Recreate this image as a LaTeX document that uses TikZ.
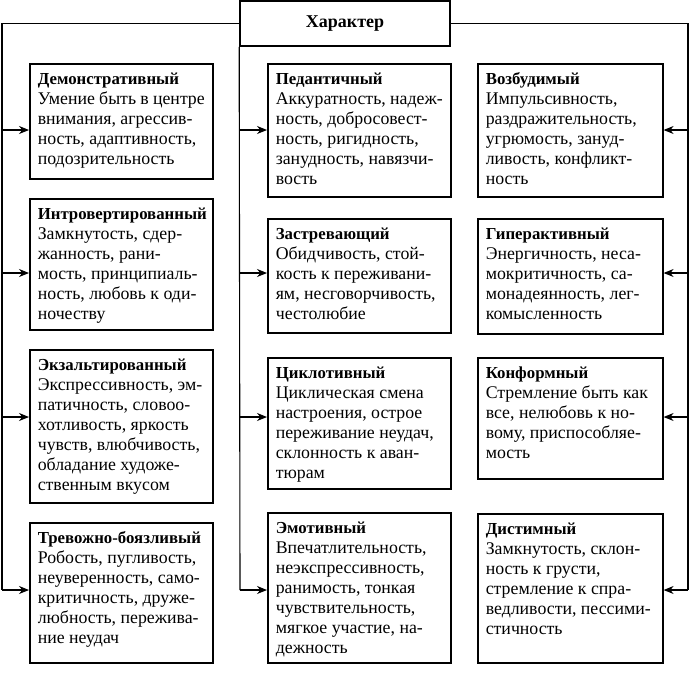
\documentclass[tikz,border=0pt]{standalone}
\usepackage{fontspec}
\setmainfont{Liberation Serif}
\usepackage{tikz}
\usetikzlibrary{arrows.meta}

% блок: высота, ширина, заголовок, текст
\newcommand{\harbox}[4]{%
  \parbox[t][#1pt][t]{#2pt}{\raggedright\rule{0pt}{21pt}{\fontsize{16.8}{20}\selectfont\bfseries #3}\\#4}}

\begin{document}
\begin{tikzpicture}[x=1pt,y=-1pt,>={Stealth[length=10pt,width=8pt]},
			typ/.style={draw,line width=1.6pt,anchor=north west,inner xsep=8pt,inner ysep=0pt,
				font=\fontsize{17.8}{20}\selectfont},
			head/.style={draw,line width=1.6pt,minimum width=210pt,minimum height=45pt,inner sep=0pt,
				font=\bfseries\fontsize{18}{20}\selectfont},
			link/.style={line width=1.1pt},
			]
			\useasboundingbox (0,0) rectangle (690,686);
			
			% заголовок
			\node[head] (har) at (345,23.5) {Характер};
			
			% левый столбец
			\node[typ] (dem) at (29,63) {\harbox{115}{167}{Демонстративный}{Умение быть в центре\\ внимания, агрессив-\\ ность, адаптивность,\\ подозрительность}};
			\node[typ] (intro) at (29,198) {\harbox{131}{167}{Интровертированный}{Замкнутость, сдер-\\ жанность, рани-\\ мость, принципиаль-\\ ность, любовь к оди-\\ ночеству}};
			\node[typ] (exalt) at (29,349) {\harbox{153}{167}{Экзальтированный}{Экспрессивность, эм-\\ патичность, словоо-\\ хотливость, яркость\\ чувств, влюбчивость,\\ обладание художе-\\ ственным вкусом}};
			\node[typ] (trev) at (29,522) {\harbox{140}{167}{Тревожно-боязливый}{Робость, пугливость,\\ неуверенность, само-\\ критичность, друже-\\ любность, пережива-\\ ние неудач}};
			
			% средний столбец
			\node[typ] (ped) at (267,63) {\harbox{133}{167}{Педантичный}{Аккуратность, надеж-\\ ность, добросовест-\\ ность, ригидность,\\ занудность, навязчи-\\ вость}};
			\node[typ] (zastr) at (267,218) {\harbox{114}{167}{Застревающий}{Обидчивость, стой-\\ кость к переживани-\\ ям, несговорчивость,\\ честолюбие}};
			\node[typ] (cycl) at (267,357) {\harbox{131}{167}{Циклотивный}{Циклическая смена\\ настроения, острое\\ переживание неудач,\\ склонность к аван-\\ тюрам}};
			\node[typ] (emot) at (267,512) {\harbox{150}{167}{Эмотивный}{Впечатлительность,\\ неэкспрессивность,\\ ранимость, тонкая\\ чувствительность,\\ мягкое участие, на-\\ дежность}};
			
			% правый столбец
			\node[typ] (vozb) at (477,63) {\harbox{133}{169}{Возбудимый}{Импульсивность,\\ раздражительность,\\ угрюмость, зануд-\\ ливость, конфликт-\\ ность}};
			\node[typ] (hyper) at (477,218) {\harbox{115}{169}{Гиперактивный}{Энергичность, неса-\\ мокритичность, са-\\ монадеянность, лег-\\ комысленность}};
			\node[typ] (konf) at (477,357) {\harbox{121}{169}{Конформный}{Стремление быть как\\ все, нелюбовь к но-\\ вому, приспособляе-\\ мость}};
			\node[typ] (dist) at (477,513) {\harbox{149}{169}{Дистимный}{Замкнутость, склон-\\ ность к грусти,\\ стремление к спра-\\ ведливости, пессими-\\ стичность}};
			
			% точки на линиях
			\foreach \r/\y in {1/130,2/273,3/417,4/590}{
				\coordinate (L\r) at (2,\y);
				\coordinate (M\r) at (240,\y);
				\coordinate (R\r) at (688,\y);
			}
			
			% линии
			\draw[link] (har.west) -| (L4);
			\draw[link] (har.east) -| (R4);
			\draw[link] (har.south west) -- (M4);
			
			% стрелки
			\foreach \r/\a/\b/\c in {1/dem/ped/vozb,2/intro/zastr/hyper,3/exalt/cycl/konf,4/trev/emot/dist}{
				\draw[link,->] (L\r) -- (L\r -| \a.west);
				\draw[link,->] (M\r) -- (M\r -| \b.west);
				\draw[link,->] (R\r) -- (R\r -| \c.east);
			}
		\end{tikzpicture}
\end{document}
